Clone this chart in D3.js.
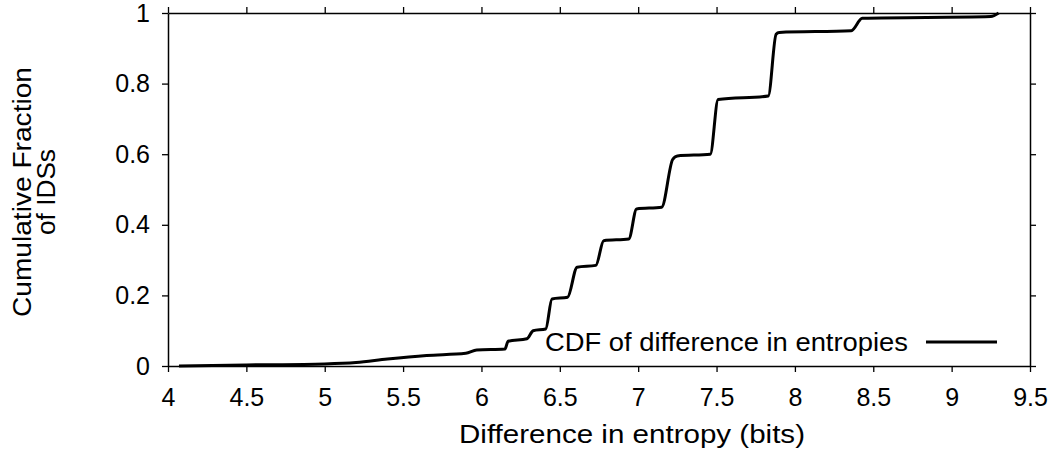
<!DOCTYPE html>
<html>
<head>
<meta charset="utf-8">
<script src="https://cdn.jsdelivr.net/npm/d3@7"></script>
<style>
  body { margin: 0; background: #fff; }
  text { font-family: "Liberation Sans", Arial, sans-serif; fill: #000; }
</style>
</head>
<body>
<svg id="chart" width="1057" height="457"></svg>
<script>
// values
const entropyDiff = [4.07, 4.5, 5.0, 5.2, 5.4, 5.65, 5.9, 5.97, 6.15, 6.17, 6.29, 6.33, 6.41, 6.45,
    6.55, 6.61, 6.73, 6.78, 6.94, 6.99, 7.15, 7.22, 7.25, 7.46, 7.51, 7.83, 7.88, 7.9, 8.36, 8.43, 9.25, 9.3];
const cumFraction = [0, 0.003, 0.006, 0.01, 0.02, 0.03, 0.036, 0.045, 0.048, 0.07, 0.077, 0.1, 0.105, 0.19,
    0.195, 0.28, 0.285, 0.355, 0.36, 0.445, 0.45, 0.585, 0.595, 0.6, 0.755, 0.765, 0.94, 0.945, 0.95, 0.985, 0.99, 1.0];
const xTicks = [4, 4.5, 5, 5.5, 6, 6.5, 7, 7.5, 8, 8.5, 9, 9.5];
const yTicks = [0, 0.2, 0.4, 0.6, 0.8, 1];
const seriesName = "CDF of difference in entropies";

const svg = d3.select("#chart");
const plotLeft = 168, plotRight = 1030, plotTop = 13, plotBottom = 366;

const x = d3.scaleLinear().domain([4, 9.5]).range([plotLeft, plotRight]);
const y = d3.scaleLinear().domain([0, 1]).range([plotBottom, plotTop]);

const fmt = d => String(d);

// axes on all four sides, ticks pointing out
const styleAxis = g => {
    g.select(".domain").attr("stroke", "#000").attr("stroke-width", 1.5);
    g.selectAll(".tick line").attr("stroke", "#000").attr("stroke-width", 1.3);
    g.selectAll(".tick text").attr("font-size", 25).attr("font-family", "Liberation Sans, Arial, sans-serif");
};

svg.append("g")
    .attr("transform", `translate(0,${plotBottom})`)
    .call(d3.axisBottom(x).tickValues(xTicks).tickFormat(fmt).tickSizeInner(6).tickSizeOuter(0).tickPadding(16))
    .call(styleAxis);

svg.append("g")
    .attr("transform", `translate(0,${plotTop})`)
    .call(d3.axisTop(x).tickValues(xTicks).tickFormat("").tickSizeInner(6).tickSizeOuter(0))
    .call(styleAxis);

svg.append("g")
    .attr("transform", `translate(${plotLeft},0)`)
    .call(d3.axisLeft(y).tickValues(yTicks).tickFormat(fmt).tickSizeInner(6).tickSizeOuter(0).tickPadding(12))
    .call(styleAxis);

svg.append("g")
    .attr("transform", `translate(${plotRight},0)`)
    .call(d3.axisRight(y).tickValues(yTicks).tickFormat("").tickSizeInner(6).tickSizeOuter(0))
    .call(styleAxis);

// the CDF curve
const points = entropyDiff.map((v, i) => [v, cumFraction[i]]);
const line = d3.line()
    .x(d => x(d[0]))
    .y(d => y(d[1]))
    .curve(d3.curveMonotoneX);

svg.append("path")
    .datum(points)
    .attr("fill", "none")
    .attr("stroke", "#000")
    .attr("stroke-width", 3)
    .attr("stroke-linejoin", "round")
    .attr("d", line);

// legend, bottom right inside the frame
const legendY = 342;
svg.append("line")
    .attr("x1", 926).attr("x2", 997)
    .attr("y1", legendY).attr("y2", legendY)
    .attr("stroke", "#000").attr("stroke-width", 3);

svg.append("text")
    .attr("x", 908).attr("y", legendY)
    .attr("dy", "0.35em")
    .attr("text-anchor", "end")
    .attr("font-size", 25)
    .attr("textLength", 363)
    .attr("lengthAdjust", "spacingAndGlyphs")
    .text(seriesName);

// axis titles
svg.append("text")
    .attr("x", 632).attr("y", 443)
    .attr("text-anchor", "middle")
    .attr("font-size", 25)
    .attr("textLength", 346)
    .attr("lengthAdjust", "spacingAndGlyphs")
    .text("Difference in entropy (bits)");

const yTitle = svg.append("g")
    .attr("transform", `translate(0,192) rotate(-90)`);
yTitle.append("text")
    .attr("x", 0).attr("y", 31)
    .attr("text-anchor", "middle")
    .attr("font-size", 25)
    .attr("textLength", 250)
    .attr("lengthAdjust", "spacingAndGlyphs")
    .text("Cumulative Fraction");
yTitle.append("text")
    .attr("x", 0).attr("y", 55)
    .attr("text-anchor", "middle")
    .attr("font-size", 25)
    .attr("textLength", 86)
    .attr("lengthAdjust", "spacingAndGlyphs")
    .text("of IDSs");
</script>
</body>
</html>
